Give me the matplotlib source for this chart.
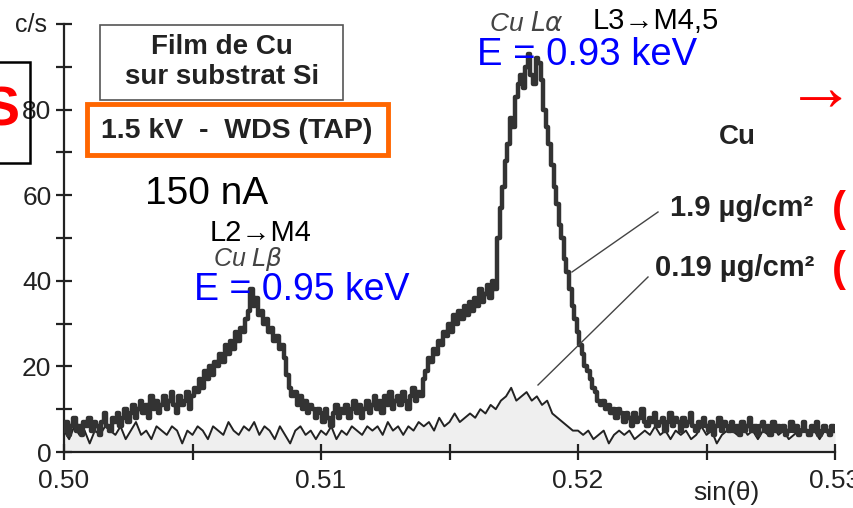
import numpy as np
import matplotlib
matplotlib.use('Agg')
import matplotlib.pyplot as plt
from matplotlib.patches import Rectangle
from matplotlib.lines import Line2D

plt.rcParams['font.family'] = ['Liberation Sans', 'DejaVu Sans']

# x range of the scan (sin theta)
x_start, x_stop = 0.500, 0.530

# Cu film 1.9 ug/cm2, one value per 0.0001 step of sin(theta)
thick_counts = [
    5, 7, 4, 6, 8, 5, 6, 4, 7, 6,
    8, 5, 7, 6, 4, 7, 9, 6, 5, 8,
    7, 9, 6, 8, 10, 7, 9, 11, 8, 10,
    12, 9, 11, 8, 13, 10, 12, 9, 11, 13,
    10, 12, 14, 11, 9, 13, 11, 12, 14, 10,
    13, 15, 14, 17, 15, 19, 17, 20, 18, 21,
    20, 23, 21, 25, 23, 26, 24, 28, 26, 29,
    28, 31, 33, 38, 34, 36, 32, 33, 30, 31,
    28, 29, 26, 27, 24, 25, 22, 18, 15, 13,
    14, 11, 13, 10, 12, 9, 11, 10, 8, 10,
    9, 7, 10, 8, 6, 9, 11, 8, 10, 9,
    11, 8, 10, 12, 9, 11, 8, 10, 12, 9,
    11, 13, 10, 12, 9, 13, 11, 14, 10, 12,
    13, 11, 14, 12, 10, 13, 15, 12, 14, 13,
    17, 19, 22, 21, 24, 23, 26, 25, 28, 27,
    30, 28, 32, 30, 33, 31, 34, 32, 35, 33,
    36, 34, 38, 35, 37, 39, 36, 40, 38, 50,
    57, 62, 68, 72, 78, 76, 83, 86, 88, 85,
    90, 93, 88, 86, 92, 91, 87, 80, 76, 72,
    67, 62, 58, 53, 50, 45, 42, 38, 34, 31,
    28, 25, 23, 20, 19, 17, 15, 14, 12, 11,
    12, 10, 11, 9, 10, 8, 10, 9, 7, 9,
    8, 6, 9, 7, 8, 10, 7, 6, 8, 7,
    9, 6, 7, 8, 5, 7, 9, 6, 8, 7,
    5, 8, 6, 7, 9, 6, 5, 7, 6, 8,
    6, 5, 7, 4, 6, 8, 5, 7, 6, 5,
    7, 5, 6, 4, 7, 5, 6, 8, 5, 6,
    4, 6, 7, 5, 6, 4, 7, 5, 6, 5,
    6, 4, 5, 7, 5, 6, 4, 5, 7, 5,
    4, 6, 5, 7, 4, 5, 6, 5, 4, 6, 5,
]

# Cu film 0.19 ug/cm2, one value per 0.0002 step
thin_counts = [
    5, 3, 6, 4, 5, 2, 5, 4, 6, 5,
    4, 6, 3, 5, 7, 4, 5, 3, 6, 5,
    4, 6, 5, 2, 5, 4, 6, 5, 3, 6,
    5, 4, 7, 5, 4, 6, 5, 7, 4, 6,
    5, 3, 6, 4, 2, 5, 6, 4, 5, 3,
    5, 4, 6, 3, 5, 4, 6, 5, 4, 6,
    5, 6, 4, 7, 5, 6, 4, 6, 5, 7,
    6, 7, 5, 8, 6, 7, 9, 7, 8, 9,
    8, 10, 9, 11, 10, 12, 13, 15, 12, 13,
    14, 12, 13, 11, 12, 9, 8, 7, 6, 5,
    5, 4, 5, 3, 4, 5, 2, 4, 5, 4,
    5, 3, 4, 5, 4, 6, 4, 5, 3, 5,
    4, 5, 3, 4, 6, 4, 5, 2, 4, 5,
    5, 4, 6, 4, 5, 3, 5, 4, 6, 4,
    5, 3, 4, 5, 6, 4, 5, 3, 5, 4, 5,
]

x_thick = np.linspace(x_start, x_stop, len(thick_counts))
x_thin = np.linspace(x_start, x_stop, len(thin_counts))

xticks = [0.50, 0.51, 0.52, 0.53]
xtick_labels = ['0.50', '0.51', '0.52', '0.53']
yticks = [0, 20, 40, 60, 80]

W, H = 854, 508
fig = plt.figure(figsize=(W / 100, H / 100), dpi=100)
ax = fig.add_axes([64 / W, 1 - 452 / H, (835 - 64) / W, (452 - 24) / H])


def fx(px):
    return px / W


def fy(py):
    return 1 - py / H


ax.fill_between(x_thin, 0, thin_counts, color='#efefef', lw=0, zorder=1)
ax.plot(x_thin, thin_counts, color='#222222', lw=1.4, zorder=2)
ax.plot(x_thick, thick_counts, color='#333333', lw=3.2, drawstyle='steps-mid', zorder=3)

ax.set_xlim(x_start, x_stop)
ax.set_ylim(0, 100)
for s in ['top', 'right']:
    ax.spines[s].set_visible(False)
for s in ['left', 'bottom']:
    ax.spines[s].set_linewidth(1.6)
    ax.spines[s].set_color('#222222')

ax.set_xticks(xticks)
ax.set_xticklabels(xtick_labels)
ax.set_xticks([0.505, 0.515, 0.525], minor=True)
ax.set_yticks(yticks)
ax.set_yticks([10, 30, 50, 70, 90, 100], minor=True)
ax.tick_params(which='both', direction='inout', length=12, width=1.6, color='#222222',
               labelsize=19, labelcolor='#222222')
ax.tick_params(axis='x', pad=6)
ax.tick_params(axis='y', pad=3)

fig.text(fx(15), fy(25), 'c/s', fontsize=18, color='#222222', va='center')
fig.text(fx(760), fy(493), 'sin(θ)', fontsize=19, color='#222222', ha='right', va='center')

# boxes
fig.patches.append(Rectangle((fx(100), fy(100)), fx(343) - fx(100), fy(25) - fy(100),
                             transform=fig.transFigure, fill=False, ec='#555555', lw=1.2))
fig.text(fx(222), fy(62), 'Film de Cu\nsur substrat Si', fontsize=20, fontweight='bold',
         color='#222222', ha='center', va='center', linespacing=1.25)
fig.patches.append(Rectangle((fx(87), fy(155)), fx(388) - fx(87), fy(104) - fy(155),
                             transform=fig.transFigure, fill=True, fc='white',
                             ec='#ff6600', lw=3.5))
fig.text(fx(237), fy(131), '1.5 kV  -  WDS (TAP)', fontsize=20.5, fontweight='bold',
         color='#222222', ha='center', va='center')

fig.text(fx(145), fy(194), '150 nA', fontsize=28, color='black', va='center')

# peak labels
fig.text(fx(489), fy(24), r'Cu $L\alpha$', fontsize=19, style='italic', color='#444444', va='center')
fig.text(fx(593), fy(21), 'L3→M4,5', fontsize=21, color='black', va='center')
fig.text(fx(477), fy(55), 'E = 0.93 keV', fontsize=27.5, color='#0000ff', va='center')

fig.text(fx(210), fy(233), 'L2→M4', fontsize=21, color='black', va='center')
fig.text(fx(213), fy(259), r'Cu $L\beta$', fontsize=18, style='italic', color='#444444', va='center')
fig.text(fx(194), fy(290), 'E = 0.95 keV', fontsize=27, color='#0000ff', va='center')

fig.text(fx(719), fy(137), 'Cu', fontsize=20, fontweight='bold', color='#222222', va='center')
fig.text(fx(670), fy(208), '1.9 µg/cm²', fontsize=21, fontweight='bold', color='#222222', va='center')
fig.text(fx(655), fy(268), '0.19 µg/cm²', fontsize=21, fontweight='bold', color='#222222', va='center')
fig.lines.append(Line2D([fx(658), fx(572)], [fy(212), fy(272)], transform=fig.transFigure,
                        color='#444444', lw=1))
fig.lines.append(Line2D([fx(648), fx(538)], [fy(277), fy(385)], transform=fig.transFigure,
                        color='#444444', lw=1))

# pieces of the surrounding slide, cut by the frame
fig.patches.append(Rectangle((fx(-20), fy(163)), fx(30) + 20 / W, fy(62) - fy(163),
                             transform=fig.transFigure, fill=False, ec='black', lw=1.8))
fig.text(fx(-18), fy(112), 'S', fontsize=40, fontweight='bold', color='red', va='center')
fig.text(fx(786), fy(92), '→', fontsize=50, color='red', va='center')
fig.text(fx(832), fy(210), '(', fontsize=30, fontweight='bold', color='red', va='center')
fig.text(fx(832), fy(270), '(', fontsize=30, fontweight='bold', color='red', va='center')

fig.savefig('out.png', dpi=100)
